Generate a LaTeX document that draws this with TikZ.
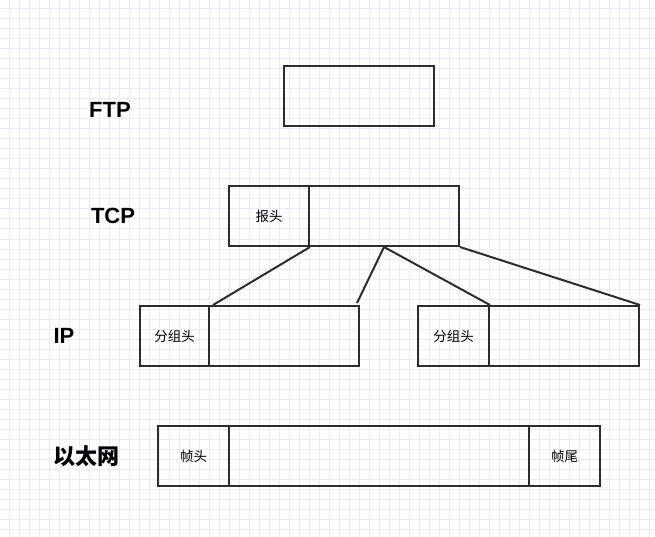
\documentclass[tikz,border=0pt]{standalone}
\usepackage{fontspec}
\setmainfont{Liberation Sans}
\newfontfamily\cjk{Noto Sans CJK SC}
\usetikzlibrary{positioning}

\definecolor{gridblue}{RGB}{234,234,250}
\definecolor{boxgray}{RGB}{45,45,45}

\tikzset{
  cell/.style={draw=boxgray, line width=2pt, inner sep=0pt, minimum height=60pt, font=\cjk\fontsize{13.5}{16}\selectfont},
  layer/.style={font=\bfseries\fontsize{22}{26}\selectfont},
  link/.style={draw=boxgray, line width=2pt}
}

\begin{document}
\begin{tikzpicture}[x=1pt, y=-1pt]
	\useasboundingbox (0,0) rectangle (655,537);
	\fill[white] (0,0) rectangle (655,537);

	% background grid
	\foreach \gx in {9,19,...,649}
		\draw[gridblue, line width=1pt] (\gx,0) -- (\gx,537);
	\foreach \gy in {9,19,...,529}
		\draw[gridblue, line width=1pt] (0,\gy) -- (655,\gy);

	% layer names
	\node[layer] (ftplabel) at (110,110) {FTP};
	\node[layer] (tcplabel) at (113,216) {TCP};
	\node[layer] (iplabel) at (64,336) {IP};
	\node[layer, font=\cjk\bfseries\fontsize{22}{26}\selectfont] (ethlabel) at (86,456) {以太网};

	% FTP
	\node[cell, minimum width=150pt] (ftp) at (359,96) {};

	% TCP
	\node[cell, minimum width=80pt] (tcphead) at (269,216) {报头};
	\node[cell, minimum width=150pt] (tcpdata) at (384,216) {};

	% IP
	\node[cell, minimum width=69pt] (iphl) at (174.5,336) {分组头};
	\node[cell, minimum width=150pt] (ipdl) at (284,336) {};
	\node[cell, minimum width=71pt] (iphr) at (453.5,336) {分组头};
	\node[cell, minimum width=150pt] (ipdr) at (564,336) {};

	% Ethernet
	\node[cell, minimum width=71pt] (ethhead) at (193.5,456) {帧头};
	\node[cell, minimum width=300pt] (ethdata) at (379,456) {};
	\node[cell, minimum width=71pt] (ethtail) at (564.5,456) {帧尾};

	% splitting
	\coordinate (gapend) at (357,303);
	\draw[link] (tcphead.south east) -- ([xshift=3pt]iphl.north east);
	\draw[link] (tcpdata.south) -- (gapend);
	\draw[link] (tcpdata.south) -- ([xshift=2pt]ipdr.north west);
	\draw[link] (tcpdata.south east) -- (ipdr.north east);
\end{tikzpicture}
\end{document}
